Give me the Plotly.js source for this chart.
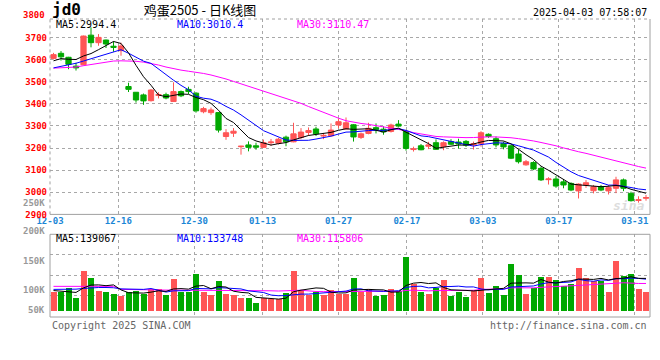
<!DOCTYPE html>
<html><head><meta charset="utf-8">
<script src="https://cdn.plot.ly/plotly-3.0.1.min.js"></script>
<style>html,body{margin:0;padding:0;background:#fff}#chart{width:660px;height:360px}</style>
</head><body><div id="chart"></div>
<script>
const dates = ['12-03','12-04','12-05','12-06','12-09','12-10','12-11','12-12','12-13','12-16','12-17','12-18','12-19','12-20','12-23','12-24','12-25','12-26','12-27','12-30','12-31',
'01-02','01-03','01-06','01-07','01-08','01-09','01-10','01-13','01-14','01-15','01-16','01-17','01-20','01-21','01-22','01-23','01-24','01-27',
'02-05','02-06','02-07','02-10','02-11','02-12','02-13','02-14','02-17','02-18','02-19','02-20','02-21','02-24','02-25','02-26','02-27','02-28',
'03-03','03-04','03-05','03-06','03-07','03-10','03-11','03-12','03-13','03-14','03-17','03-18','03-19','03-20','03-21','03-24','03-25','03-26','03-27','03-28','03-31',
'04-01','04-02'];
const open  = [3605,3628,3610,3570,3576,3710,3676,3688,3660,3640,3478,3452,3440,3414,3438,3441,3410,3455,3465,3448,3364,3360,3360,3252,3267,3206,3214,3210,3203,3224,3222,3249,3228,3248,3270,3286,3254,3255,3304,3286,3305,3248,3266,3292,3285,3275,3308,3275,3193,3210,3208,3224,3206,3229,3227,3230,3214,3220,3262,3242,3221,3210,3173,3124,3134,3108,3057,3060,3047,3040,3006,3033,3007,3025,3006,3018,3056,2995,2963,2973];
const high  = [3630,3638,3612,3585,3708,3745,3715,3690,3682,3676,3495,3453,3446,3466,3452,3450,3497,3460,3477,3452,3386,3383,3362,3285,3290,3210,3230,3224,3238,3241,3246,3256,3314,3290,3293,3296,3268,3311,3334,3338,3308,3270,3314,3311,3298,3310,3326,3282,3206,3218,3228,3239,3230,3240,3242,3236,3229,3276,3266,3252,3229,3214,3192,3146,3140,3116,3068,3073,3060,3045,3040,3055,3033,3033,3033,3070,3062,3003,2982,2988];
const low   = [3600,3595,3556,3550,3574,3655,3662,3652,3635,3617,3453,3405,3395,3410,3424,3420,3408,3430,3444,3360,3357,3350,3270,3237,3250,3170,3185,3192,3200,3210,3216,3208,3226,3240,3255,3254,3240,3252,3289,3284,3229,3241,3262,3266,3260,3270,3296,3188,3184,3190,3195,3192,3190,3214,3198,3205,3193,3206,3246,3203,3194,3150,3130,3120,3100,3051,3035,3020,3018,3005,2972,3020,2995,3005,2990,2996,3005,2958,2953,2962];
const close = [3622,3612,3578,3562,3706,3676,3700,3670,3655,3661,3465,3417,3413,3462,3441,3426,3455,3436,3455,3368,3378,3372,3281,3269,3276,3208,3203,3204,3224,3227,3240,3228,3264,3272,3279,3264,3257,3281,3319,3314,3250,3264,3289,3284,3273,3304,3299,3198,3196,3192,3214,3194,3224,3217,3218,3213,3219,3269,3252,3214,3205,3154,3138,3138,3105,3056,3060,3028,3033,3010,3037,3043,3025,3010,3021,3056,3018,2962,2966,2976];
const volume = [81000,81000,98000,56000,171000,141000,85000,81000,73000,64000,81000,85000,73000,93000,93000,68000,137000,81000,81000,158000,81000,68000,128000,71000,68000,56000,56000,34000,56000,51000,51000,76000,171000,90000,68000,81000,68000,90000,71000,71000,141000,81000,91000,64000,67000,93000,85000,229000,114000,81000,71000,99000,131000,64000,81000,58000,88000,141000,76000,105000,67000,199000,152000,71000,99000,145000,144000,131000,105000,114000,182000,140000,127000,127000,80000,212000,148000,157000,93000,80000];
// moving-average values before enough in-window data exists
const ma5Lead  = [3594,3604,3601,3600];
const ma10Lead = [3562,3568,3575,3583,3593,3603,3613,3624,3636];
const ma30Lead = [3561,3563,3564,3566,3572,3578,3584,3590,3593,3594,3594,3592,3588,3582,3575,3566,3558,3552,3547,3543,3537,3530,3522,3512,3501,3490,3479,3468,3457];
const volMa5Lead  = [86000,84000,80000,78000];
const volMa10Lead = [91000,91000,92000,92000,95000,98000,99000,99000,98000];
const volMa30Lead = [104000,104000,104000,104000,104000,104000,104000,104000,104000,91000,90000,90000,89000,89000,89000,88000,88000,88000,88000,88000,88000,87000,87000,87000,86000,86000,86000,85000,85000];
const tickLabels = ['12-03','12-16','12-30','01-13','01-27','02-17','03-03','03-17','03-31'];
const priceTicks = [2900,3000,3100,3200,3300,3400,3500,3600,3700];
const priceTopLabel = '3800';
const volTickLabels = ['250K','200K','150K','100K','50K'];
const maPriceLabels = ['MA5:2994.4','MA10:3010.4','MA30:3110.47'];
const maVolLabels = ['MA5:139067','MA10:133748','MA30:115806'];

const RED = '#FF5555', GREEN = '#00A800', MONO = 'DejaVu Sans Mono, Liberation Mono, monospace';
const xIdx = dates.map((d, i) => i);
function movingAvg(src, n, lead) {
  return src.map((v, i) => {
    if (i < n - 1) return lead[i];
    let s = 0; for (let k = i - n + 1; k <= i; k++) s += src[k];
    return s / n;
  });
}
const ma5 = movingAvg(close, 5, ma5Lead), ma10 = movingAvg(close, 10, ma10Lead), ma30 = movingAvg(close, 30, ma30Lead);
const vma5 = movingAvg(volume, 5, volMa5Lead), vma10 = movingAvg(volume, 10, volMa10Lead), vma30 = movingAvg(volume, 30, volMa30Lead);
const volColors = close.map((c, i) => c >= open[i] ? RED : GREEN);
const tickPos = tickLabels.map(l => dates.indexOf(l) * 80 / 79 - 0.467);

const traces = [
  {type:'candlestick', x:xIdx, open:open, high:high, low:low, close:close, xaxis:'x', yaxis:'y',
   increasing:{line:{color:RED,width:1}, fillcolor:RED}, decreasing:{line:{color:GREEN,width:1}, fillcolor:GREEN},
   whiskerwidth:0, hoverinfo:'skip', showlegend:false},
  {type:'scatter', mode:'lines', x:xIdx, y:ma30, line:{color:'#FF00FF',width:1}, xaxis:'x', yaxis:'y', hoverinfo:'skip', showlegend:false},
  {type:'scatter', mode:'lines', x:xIdx, y:ma10, line:{color:'#0000FF',width:1}, xaxis:'x', yaxis:'y', hoverinfo:'skip', showlegend:false},
  {type:'scatter', mode:'lines', x:xIdx, y:ma5, line:{color:'#000000',width:1}, xaxis:'x', yaxis:'y', hoverinfo:'skip', showlegend:false},
  {type:'bar', x:xIdx, y:volume, width:0.8, marker:{color:volColors, line:{width:0}}, xaxis:'x2', yaxis:'y2', hoverinfo:'skip', showlegend:false},
  {type:'scatter', mode:'lines', x:xIdx, y:vma30, line:{color:'#FF00FF',width:1}, xaxis:'x2', yaxis:'y2', hoverinfo:'skip', showlegend:false},
  {type:'scatter', mode:'lines', x:xIdx, y:vma10, line:{color:'#0000FF',width:1}, xaxis:'x2', yaxis:'y2', hoverinfo:'skip', showlegend:false},
  {type:'scatter', mode:'lines', x:xIdx, y:vma5, line:{color:'#000000',width:1}, xaxis:'x2', yaxis:'y2', hoverinfo:'skip', showlegend:false}
];

const GRID = '#A8A8A8', BORDER = '#A0A0A0';
const PY0 = 0.3443, VY1 = 0.2775;
const xr = [-0.467, 79.533];
const layout = {
  width:660, height:360, margin:{l:50, r:10, t:19, b:43}, paper_bgcolor:'#fff', plot_bgcolor:'#fff',
  boxgap:0.3, boxgroupgap:0, showlegend:false, bargap:0,
  title:{text:'鸡蛋2505 - 日K线图', x:200/660, xanchor:'center', y:1-10/360, yanchor:'middle',
         font:{family:'Noto Sans CJK SC, sans-serif', size:13, color:'#000'}},
  xaxis:{domain:[0,1], anchor:'y', range:xr, tickmode:'array', tickvals:tickPos, ticktext:tickLabels,
         showgrid:true, gridcolor:GRID, griddash:'dot', gridwidth:1, zeroline:false, showline:false, ticks:'',
         ticklabelstandoff:0,
         tickfont:{family:MONO, size:9, color:'#1A86D6', weight:'bold'}, rangeslider:{visible:false}, fixedrange:true},
  yaxis:{domain:[PY0,1], anchor:'x', range:[2900,3783], tickmode:'array', tickvals:priceTicks, ticktext:priceTicks.map(String),
         showgrid:true, gridcolor:GRID, griddash:'dot', gridwidth:1, zeroline:false, showline:false, ticks:'',
         ticklabelstandoff:2,
         tickfont:{family:MONO, size:9, color:'#FF0000', weight:'bold'}, fixedrange:true},
  xaxis2:{domain:[0,1], anchor:'y2', range:xr, tickmode:'array', tickvals:tickPos, showticklabels:false,
         showgrid:true, gridcolor:GRID, griddash:'dot', gridwidth:1, zeroline:false, showline:false, ticks:'', fixedrange:true},
  yaxis2:{domain:[0,VY1], anchor:'x2', range:[-26900,326200], tickmode:'array', tickvals:[67000,152000,238000], showticklabels:false,
         showgrid:true, gridcolor:GRID, griddash:'dot', gridwidth:1, zeroline:false, showline:false, ticks:'', fixedrange:true},
  shapes:[
    {type:'line', xref:'paper', yref:'paper', x0:0, x1:1, y0:1, y1:1, line:{color:BORDER, width:1, dash:'dot'}},
    {type:'line', xref:'paper', yref:'paper', x0:0, x1:0, y0:PY0, y1:1, line:{color:BORDER, width:1, dash:'dot'}},
    {type:'line', xref:'paper', yref:'paper', x0:0, x1:1, y0:PY0, y1:PY0, line:{color:BORDER, width:1}},
    {type:'line', xref:'paper', yref:'paper', x0:1, x1:1, y0:PY0, y1:1, line:{color:BORDER, width:1}},
    {type:'rect', xref:'paper', yref:'paper', x0:0, x1:1, y0:0, y1:VY1, line:{color:BORDER, width:1}}
  ],
  annotations:[]
};
const px = p => (p - 50) / 600, py = p => (317 - p) / 298;
function ann(text, x, y, xa, color, size, weight) {
  layout.annotations.push({text:text, xref:'paper', yref:'paper', x:px(x), y:py(y), xanchor:xa, yanchor:'middle',
    showarrow:false, font:{family:MONO, size:size || 10, color:color, weight:weight || 'normal'}});
}
ann(priceTopLabel, 47, 15, 'right', '#FF0000', 9, 'bold');
ann(maPriceLabels[0], 54, 24, 'left', '#000000');
ann(maPriceLabels[1], 175, 24, 'left', '#0000FF');
ann(maPriceLabels[2], 295, 24, 'left', '#FF00FF');
ann(maVolLabels[0], 54, 238, 'left', '#000000');
ann(maVolLabels[1], 175, 238, 'left', '#0000FF');
ann(maVolLabels[2], 295, 238, 'left', '#FF00FF');
const volLabelY = [203, 231, 261, 290, 310];
volTickLabels.forEach((t, i) => ann(t, 47, volLabelY[i], 'right', '#999999', 9, 'bold'));
ann('jd0', 50, 10, 'left', '#000000', 16, 'bold');
ann('2025-04-03 07:58:07', 649, 12, 'right', '#000000');
ann('Copyright 2025 SINA.COM', 50, 325, 'left', '#666666');
ann('http://finance.sina.com.cn', 649, 325, 'right', '#666666');
ann('<i>sina</i>', 628, 206, 'center', '#DDDDDD', 13, 'bold');

Plotly.newPlot('chart', traces, layout, {staticPlot:true, displayModeBar:false});
</script></body></html>
